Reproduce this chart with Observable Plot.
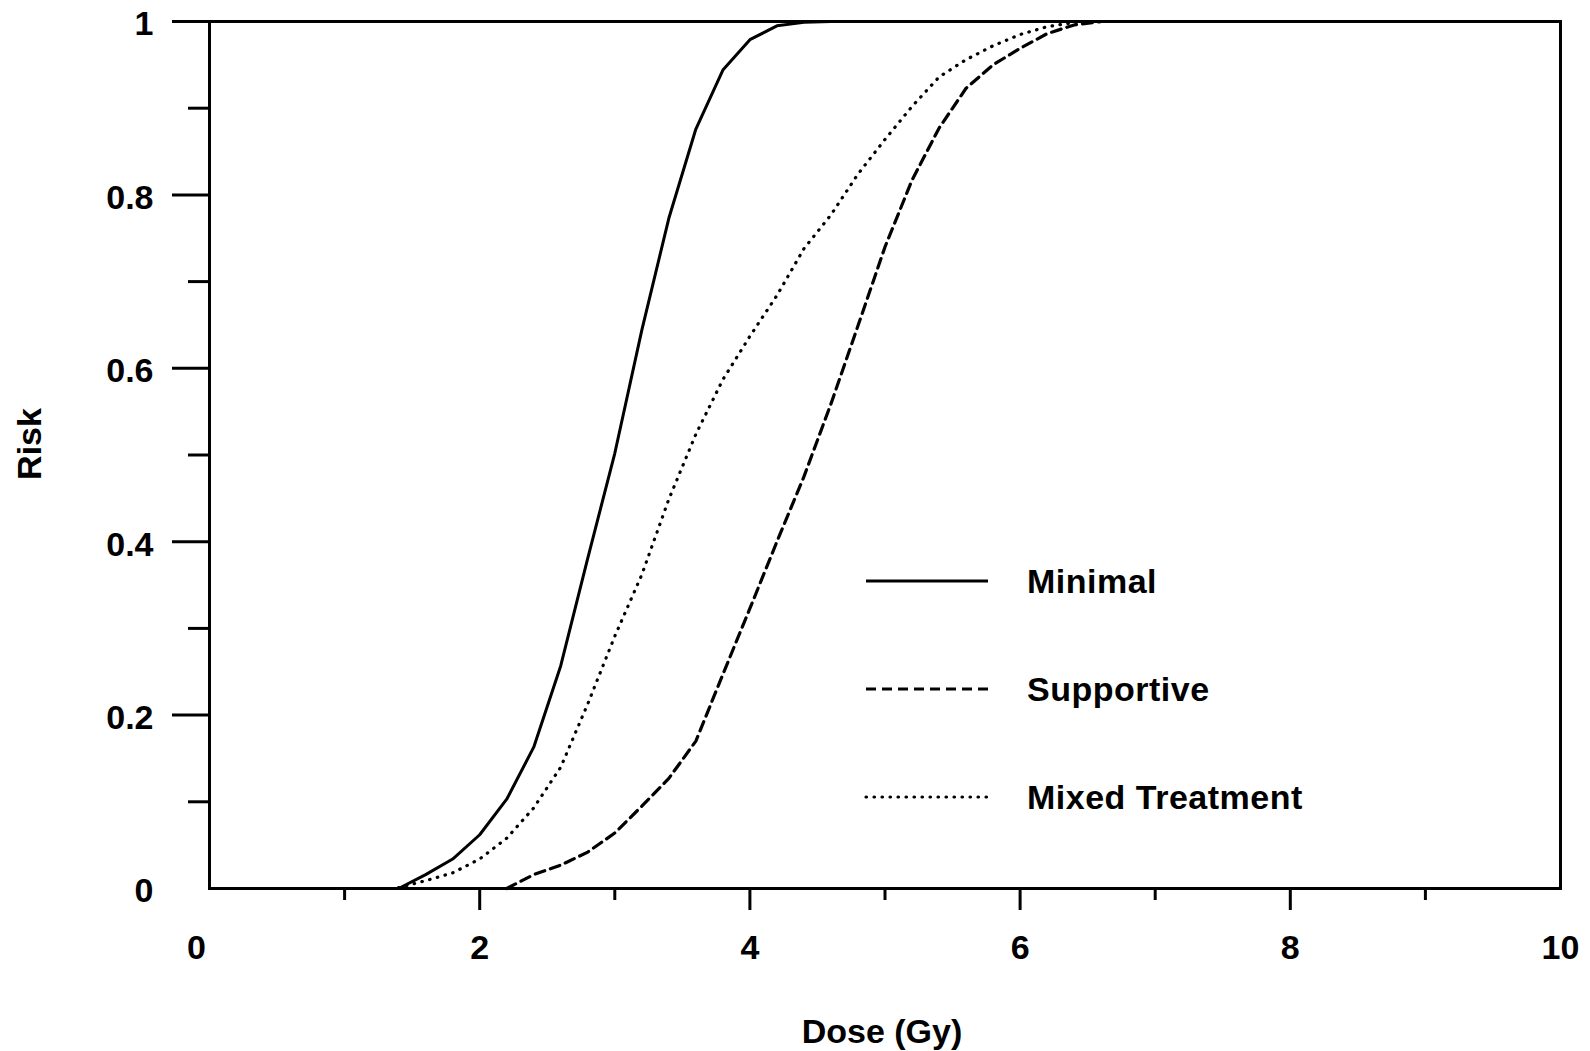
<!DOCTYPE html>
<html>
<head>
<meta charset="utf-8">
<script src="https://cdn.jsdelivr.net/npm/d3@7"></script>
<script src="https://cdn.jsdelivr.net/npm/@observablehq/plot@0.6"></script>
<style>
  html, body { margin: 0; padding: 0; background: #fff; }
  #wrap { position: relative; width: 1590px; height: 1051px; }
  #legend { position: absolute; left: 0; top: 0; pointer-events: none; }
</style>
</head>
<body>
<div id="wrap"></div>
<script>
// ---- Data ----
const minimalDose = [0, 1.4, 1.6, 1.8, 2.0, 2.2, 2.4, 2.6, 2.8, 3.0, 3.2, 3.4, 3.6, 3.8, 4.0, 4.2, 4.4, 4.6, 10];
const minimalRisk = [0, 0, 0.016, 0.034, 0.062, 0.103, 0.163, 0.257, 0.381, 0.502, 0.644, 0.773, 0.876, 0.944, 0.979, 0.995, 0.999, 1, 1];

const supportiveDose = [2.2, 2.4, 2.6, 2.8, 3.0, 3.2, 3.4, 3.6, 3.8, 4.0, 4.2, 4.4, 4.6, 4.8, 5.0, 5.2, 5.4, 5.6, 5.8, 6.0, 6.2, 6.4, 6.6];
const supportiveRisk = [0, 0.016, 0.027, 0.042, 0.064, 0.095, 0.127, 0.170, 0.247, 0.323, 0.400, 0.475, 0.559, 0.649, 0.740, 0.817, 0.877, 0.923, 0.950, 0.969, 0.986, 0.996, 1.0];

const mixedDose = [1.4, 1.6, 1.8, 2.0, 2.2, 2.4, 2.6, 2.8, 3.0, 3.2, 3.4, 3.6, 3.8, 4.0, 4.2, 4.4, 4.6, 4.8, 5.0, 5.2, 5.4, 5.6, 5.8, 6.0, 6.2, 6.4, 6.6];
const mixedRisk = [0.001, 0.009, 0.018, 0.034, 0.058, 0.093, 0.140, 0.213, 0.291, 0.362, 0.449, 0.524, 0.587, 0.637, 0.684, 0.738, 0.777, 0.824, 0.864, 0.902, 0.936, 0.956, 0.972, 0.985, 0.994, 0.999, 1];

const xTickLabels = [2, 4, 6, 8, 10];
const xZeroLabel = [0];
const xMajorTicks = [2, 4, 6, 8];
const xMinorTicks = [1, 3, 5, 7, 9];
const yTickLabels = [0, 0.2, 0.4, 0.6, 0.8, 1];
const yMajorTicks = [0.2, 0.4, 0.6, 0.8, 1];
const yMinorTicks = [0.1, 0.3, 0.5, 0.7, 0.9];

const seriesNames = ["Minimal", "Supportive", "Mixed Treatment"];
const xTitle = "Dose (Gy)";
const yTitle = "Risk";

// ---- Build tables ----
const toRows = (xs, ys) => xs.map((d, i) => ({dose: d, risk: ys[i]}));
const minimal = toRows(minimalDose, minimalRisk);
const supportive = toRows(supportiveDose, supportiveRisk);
const mixed = toRows(mixedDose, mixedRisk);

const FONT = "'Liberation Sans', Arial, Helvetica, sans-serif";
const dashes = [null, "10,6", "0.5,7.5"];
const caps = ["butt", "butt", "round"];
const widths = [3, 3.2, 3.2];

const chart = Plot.plot({
  width: 1590,
  height: 1051,
  marginLeft: 209,
  marginRight: 30,
  marginTop: 21,
  marginBottom: 163,
  x: {domain: [0, 10]},
  y: {domain: [0, 1]},
  style: {fontFamily: FONT, fontWeight: "bold", fontSize: "34px", color: "black", background: "white", overflow: "visible"},
  marks: [
    Plot.axisY({ticks: yMajorTicks, tickSize: 37, tickFormat: () => "", strokeWidth: 3, label: null}),
    Plot.axisY({ticks: yMinorTicks, tickSize: 21, tickFormat: () => "", strokeWidth: 3, label: null}),
    Plot.axisY({ticks: yTickLabels, tickSize: 0, tickPadding: 56, dy: 3, tickFormat: d => String(d), label: null}),
    Plot.axisX({ticks: xMajorTicks, tickSize: 22, tickFormat: () => "", strokeWidth: 3, label: null}),
    Plot.axisX({ticks: xMinorTicks, tickSize: 12, tickFormat: () => "", strokeWidth: 3, label: null}),
    Plot.axisX({ticks: xTickLabels, tickSize: 0, tickPadding: 46, tickFormat: d => String(d), label: null}),
    Plot.axisX({ticks: xZeroLabel, tickSize: 0, tickPadding: 46, dx: -13, tickFormat: d => String(d), label: null}),
    Plot.line(minimal, {x: "dose", y: "risk", stroke: "black", strokeWidth: widths[0]}),
    Plot.line(supportive, {x: "dose", y: "risk", stroke: "black", strokeWidth: widths[1], strokeDasharray: dashes[1]}),
    Plot.line(mixed, {x: "dose", y: "risk", stroke: "black", strokeWidth: widths[2], strokeDasharray: dashes[2], strokeLinecap: caps[2]}),
    Plot.frame({stroke: "black", strokeWidth: 3}),
    Plot.text([yTitle], {frameAnchor: "left", textAnchor: "middle", dx: -179, dy: -11, rotate: -90, fontSize: 34, lineAnchor: "middle", fill: "black"}),
    Plot.text([xTitle], {frameAnchor: "bottom", textAnchor: "middle", dx: -3, dy: 144, fontSize: 34, lineAnchor: "middle", fill: "black"})
  ]
});

const wrap = document.getElementById("wrap");
wrap.appendChild(chart);

// ---- Legend overlay (inside plot area) ----
const legendLineX1 = 866, legendLineX2 = 988, legendTextX = 1027;
const legendRowY = [581, 689, 797];
const leg = d3.select(wrap).append("svg")
  .attr("id", "legend")
  .attr("width", 1590)
  .attr("height", 1051);
seriesNames.forEach((name, i) => {
  const ln = leg.append("line")
    .attr("x1", legendLineX1).attr("x2", legendLineX2)
    .attr("y1", legendRowY[i]).attr("y2", legendRowY[i])
    .attr("stroke", "black").attr("stroke-width", widths[i])
    .attr("stroke-linecap", caps[i]);
  if (dashes[i]) ln.attr("stroke-dasharray", dashes[i]);
  leg.append("text")
    .attr("x", legendTextX).attr("y", legendRowY[i])
    .attr("dy", "0.36em")
    .attr("font-family", FONT)
    .attr("font-weight", "bold")
    .attr("font-size", 34)
    .attr("letter-spacing", "0.5px")
    .attr("fill", "black")
    .text(name);
});
</script>
</body>
</html>
